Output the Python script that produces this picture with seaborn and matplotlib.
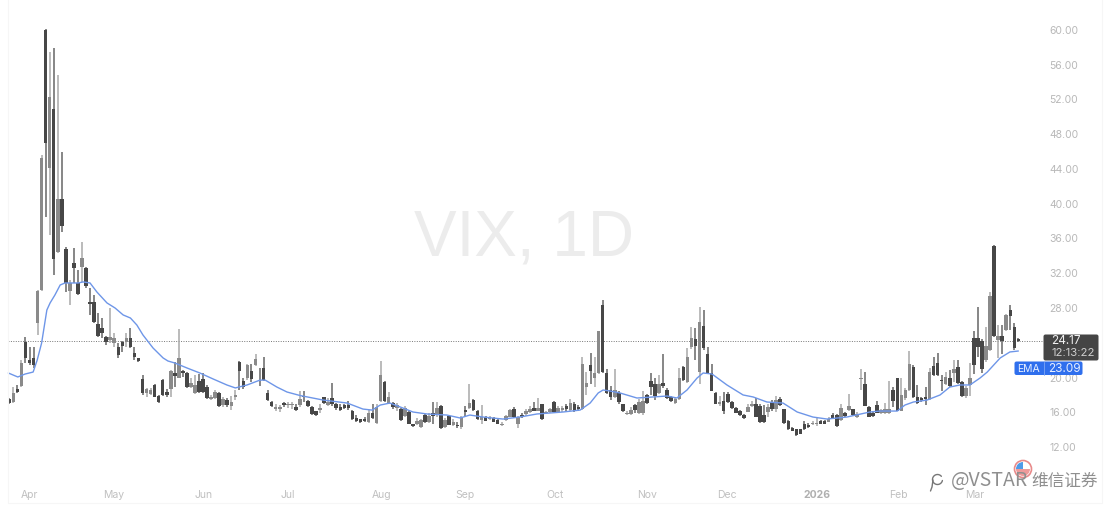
import matplotlib
matplotlib.use('Agg')
import matplotlib.pyplot as plt
from matplotlib.patches import Circle, FancyBboxPatch, Rectangle, Wedge
import numpy as np
import seaborn as sns

# daily VIX candles
opens = [
    17.5,17.2,18.7,19.0,24.1,22.0,22.2,26.3,30.1,60.0,
    44.1,50.9,34.4,40.6,34.8,30.0,33.2,30.9,32.7,32.6,
    28.7,28.7,26.2,25.7,24.7,24.3,24.0,23.5,24.1,24.1,
    24.5,22.8,22.2,19.8,18.2,18.1,19.1,17.9,19.7,18.3,
    18.7,20.5,20.0,20.8,20.5,18.9,18.2,19.6,19.8,18.9,
    17.5,17.6,18.2,16.8,17.4,16.7,17.8,21.8,19.6,19.9,
    20.8,21.4,20.8,21.1,18.2,17.2,16.4,16.4,17.1,16.8,
    16.8,16.65,16.8,17.85,17.3,16.65,16.15,16.3,17.7,16.85,
    17.6,17.0,16.65,16.85,16.85,16.2,15.3,15.2,15.2,14.85,
    15.9,14.8,17.3,19.5,17.1,17.1,16.45,16.4,15.6,16.05,
    14.65,14.65,14.35,15.7,14.9,15.9,15.7,16.75,14.25,15.55,
    14.55,14.55,14.25,16.25,16.45,17.4,16.2,15.1,15.5,15.2,
    15.3,15.1,14.55,15.1,15.5,16.4,14.7,15.7,15.8,16.05,
    16.45,16.2,16.9,15.9,16.05,17.2,16.05,16.25,16.75,16.3,
    17.0,16.55,16.35,18.95,21.45,20.0,20.5,28.35,20.5,18.55,
    17.8,18.25,16.95,15.8,15.8,16.85,15.9,15.9,17.95,19.65,
    19.3,18.2,19.4,18.55,17.8,17.1,17.5,21.25,19.5,23.5,
    24.45,20.65,25.9,22.65,20.5,18.25,16.95,17.3,18.1,17.2,
    16.45,16.2,15.7,16.05,16.7,16.95,16.7,15.7,16.05,17.2,
    16.35,17.5,16.35,15.0,14.15,14.05,14.05,14.65,14.5,14.65,
    14.65,15.0,15.0,14.9,15.7,15.7,15.1,15.9,16.3,16.35,
    15.4,19.8,19.3,16.65,15.95,16.85,15.95,15.95,15.95,18.55,
    19.9,16.2,17.6,18.55,21.25,17.8,17.6,17.8,17.5,21.3,
    21.7,19.75,19.25,20.0,20.5,21.2,19.5,17.9,19.15,24.6,
    24.5,24.25,22.0,23.15,35.1,24.3,24.8,25.5,27.8,25.8,24.45,
]
closes = [
    17.1,18.2,18.3,21.7,22.2,21.7,21.4,30.0,45.3,47.0,
    52.3,33.6,40.6,37.4,30.9,30.9,32.6,29.6,33.8,30.5,
    28.5,26.4,24.8,25.1,24.1,24.7,24.5,22.6,23.6,24.5,
    23.5,22.4,21.9,18.2,18.7,18.6,17.8,17.2,18.0,18.0,
    20.8,20.2,22.2,20.5,18.9,19.4,19.1,18.3,18.3,17.6,
    17.8,18.3,16.7,17.5,16.8,17.2,18.0,20.8,18.9,21.4,
    19.8,22.1,20.7,19.7,17.4,16.7,16.6,16.6,16.8,17.0,
    16.95,16.25,17.5,17.7,16.7,15.8,15.7,16.45,17.1,17.2,
    17.0,16.45,16.25,16.45,16.45,15.2,15.0,14.85,15.05,15.95,
    15.3,16.65,20.3,17.3,17.8,16.65,16.85,15.1,16.45,14.7,
    14.4,15.0,15.1,14.85,15.55,15.55,16.45,14.15,15.1,14.55,
    14.9,14.4,15.4,16.05,17.1,16.25,15.2,15.4,15.05,15.4,
    14.9,14.7,14.7,15.55,16.25,15.4,15.5,15.4,16.2,16.4,
    16.15,16.45,15.2,16.05,16.35,16.05,16.45,16.45,16.35,17.1,
    16.2,16.35,21.55,19.4,20.75,20.55,25.3,20.65,18.2,17.7,
    18.55,17.15,16.2,15.95,16.25,16.25,17.2,17.35,17.1,18.85,
    17.85,19.3,19.0,17.6,17.35,17.5,19.9,19.7,22.4,24.6,
    23.6,26.35,23.35,20.5,18.45,17.0,17.2,16.2,17.2,16.45,
    15.95,15.7,15.3,16.65,16.95,15.5,14.85,14.85,16.65,16.35,
    17.4,16.85,14.8,14.05,13.9,13.4,13.5,14.05,14.35,14.8,
    14.8,14.7,14.7,15.2,15.3,14.4,16.45,15.55,16.7,15.7,
    15.8,20.0,16.75,15.5,15.55,15.95,16.25,16.35,16.35,17.35,
    16.2,18.0,18.55,21.6,17.7,17.05,17.4,17.5,20.65,20.3,
    20.3,19.6,20.1,19.0,20.95,19.4,17.9,18.75,19.9,21.45,
    23.55,20.95,23.6,29.4,24.8,24.8,24.2,27.2,27.1,23.35,24.17,
]
highs = [
    17.6,18.9,19.1,22.0,24.7,23.5,23.5,30.1,45.6,60.1,
    57.5,57.9,54.8,46.0,35.0,31.2,34.9,32.4,35.6,32.7,
    30.3,29.5,27.4,26.9,24.8,28.0,25.1,24.0,24.2,25.1,
    25.7,23.5,22.3,20.3,18.8,18.8,19.3,18.0,19.8,18.7,
    20.9,21.8,25.6,20.9,20.6,20.0,20.3,20.4,20.5,19.1,
    18.0,18.6,18.3,17.8,17.6,17.9,18.6,21.9,20.0,21.6,
    21.6,22.7,21.1,22.4,18.6,17.3,16.9,16.8,17.2,17.2,
    17.2,16.9,18.4,18.4,17.4,16.7,16.2,17.0,17.8,17.6,
    19.4,17.1,16.9,17.0,17.3,16.3,15.7,15.25,15.5,16.3,
    17.0,16.9,21.9,19.6,18.3,17.2,17.1,16.5,16.7,16.1,
    14.7,15.3,15.2,15.8,15.9,17.2,17.2,16.85,15.3,15.6,
    15.2,14.9,15.6,16.7,19.3,17.5,16.3,16.85,15.6,15.6,
    15.4,15.2,14.9,15.7,16.4,16.6,15.6,15.9,16.4,16.7,
    17.2,17.6,17.0,16.2,16.5,17.3,16.7,16.7,17.0,17.5,
    17.2,16.8,22.4,20.65,22.85,22.4,25.4,28.9,20.95,19.0,
    20.95,18.4,17.0,16.2,16.6,17.0,17.5,18.4,18.1,20.5,
    19.9,20.3,22.65,18.8,17.9,17.7,21.15,21.3,23.35,25.8,
    25.65,28.15,27.75,23.55,21.6,18.3,17.9,18.3,18.3,17.3,
    16.6,16.3,15.8,17.0,17.3,17.6,17.0,16.85,16.9,17.4,
    17.85,17.7,16.4,15.1,14.3,14.1,14.1,15.0,14.8,15.0,
    15.3,15.1,15.1,15.4,15.9,15.8,16.9,16.0,18.1,16.4,
    16.0,20.95,20.65,16.7,16.1,17.3,16.4,17.1,19.65,18.95,
    20.0,19.9,18.8,23.1,21.4,19.15,17.8,18.95,21.05,22.4,
    22.85,20.3,20.6,20.9,22.0,22.0,19.6,19.0,21.7,25.3,
    28.1,24.4,25.8,29.8,35.25,26.05,26.1,27.3,28.35,26.3,24.5,
]
lows = [
    17.0,17.1,18.2,18.9,21.7,21.4,21.1,24.9,30.0,38.5,
    36.4,31.8,34.3,36.7,29.8,28.4,30.9,29.5,31.0,30.3,
    27.2,26.3,24.7,24.5,23.7,24.0,23.5,22.2,22.9,23.5,
    23.4,22.0,21.8,18.0,17.7,18.0,17.7,17.1,17.9,17.8,
    17.8,18.9,19.9,20.1,18.8,18.8,18.1,18.2,18.2,17.5,
    17.4,17.5,16.6,16.6,16.6,16.3,17.4,18.6,18.7,19.7,
    19.5,21.3,19.0,19.6,17.3,16.6,16.1,16.0,16.6,16.5,
    16.4,16.1,16.65,17.2,16.6,15.7,15.6,15.9,17.0,16.7,
    16.7,16.3,16.1,16.4,16.3,15.1,14.9,14.8,14.9,14.75,
    15.2,14.7,17.2,17.2,17.0,16.4,16.2,15.0,15.5,14.65,
    14.3,14.5,14.2,14.8,14.8,14.7,15.5,14.1,14.15,14.5,
    14.4,14.2,14.1,15.5,16.4,16.2,15.1,14.7,15.0,15.1,
    14.85,14.65,14.4,15.05,15.4,15.3,14.2,15.3,15.6,15.9,
    16.1,16.1,15.1,15.8,15.9,16.0,15.9,16.0,16.2,16.2,
    16.0,16.1,16.3,18.0,19.3,18.95,20.4,20.5,18.1,17.4,
    17.6,17.0,16.0,15.7,15.7,15.9,15.8,15.7,17.0,18.0,
    17.4,18.1,18.8,17.5,17.2,17.0,17.4,19.6,19.4,23.3,
    22.0,19.3,23.2,20.4,18.4,16.9,16.7,15.8,17.1,16.4,
    15.9,15.6,15.25,16.0,16.6,15.4,14.8,14.8,15.4,16.2,
    16.0,16.7,14.7,14.0,13.8,13.3,13.45,14.0,14.2,14.5,
    14.4,14.6,14.6,14.85,15.2,14.3,15.0,15.4,16.2,15.6,
    15.3,18.55,16.7,15.4,15.4,15.9,15.8,15.8,15.8,16.65,
    16.1,16.1,17.4,18.4,17.6,16.9,17.2,16.85,17.4,20.2,
    20.2,18.4,19.1,18.9,19.5,19.3,17.8,17.6,17.9,20.4,
    22.4,20.5,21.8,23.0,24.7,22.2,22.7,25.3,25.5,23.15,24.1,
]

# EMA line, read at its bends
ema_idx = [-0.25,2.1,3.9,5.9,6.9,8,9.3,10.1,11.3,12.6,13.8,15,17,18.3,20,21.7,24.2,26.2,28.2,30,
           31.6,33.1,35.6,38.1,39.3,41,44,47.2,50.5,53.9,56,58.9,62.1,63.4,66.3,68.8,72,77.7,83.7,87.6,
           89.9,91.9,94.3,97.5,100,103.5,108.4,111.7,114.1,117.4,122.3,126.5,130.7,137.2,141.4,143.9,145.9,147.1,148.8,151.3,
           155.5,159.5,163,165.4,167.9,170.4,171.9,174.1,177.8,181.8,184.3,187.7,191.7,195.2,199.1,202.6,207.5,213.2,215.7,220,
           221.9,224,227.4,230.6,233,235.5,238,240.5,242.3,245.5,247.9,250]
ema_val = [20.52,20.06,20.4,20.63,22.0,23.97,27.77,28.58,29.5,30.65,30.88,30.88,30.88,31.0,30.88,29.84,28.58,28.0,27.2,26.85,
           26.04,24.9,23.4,22.25,21.9,21.67,21.1,20.52,19.83,19.14,18.8,19.14,19.7,19.7,18.9,18.33,17.93,17.41,17.06,16.37,
           16.25,16.83,17.06,16.49,16.03,15.8,15.68,15.34,15.68,15.45,15.22,15.45,15.8,16.03,16.25,17.06,18.22,18.56,18.45,18.22,
           17.64,17.76,17.87,17.64,18.56,19.94,20.52,20.4,19.14,17.99,17.76,17.18,17.06,16.03,15.45,15.22,15.45,16.03,16.14,16.14,
           16.83,17.18,17.41,17.99,18.9,19.14,19.14,19.94,20.63,22.25,22.94,23.05]

price_ticks = [12, 16, 20, 24, 28, 32, 36, 40, 44, 48, 52, 56, 60]
price_labels = ['12.00', '16.00', '20.00', '', '28.00', '32.00', '36.00', '40.00', '44.00', '48.00', '52.00', '56.00', '60.00']
month_pos = [4.9, 25.9, 48.2, 69, 92.1, 112.9, 135.2, 158, 177.8, 200.1, 220.2, 239.3]
month_labels = ['Apr', 'May', 'Jun', 'Jul', 'Aug', 'Sep', 'Oct', 'Nov', 'Dec', '2026', 'Feb', 'Mar']
last_price = 24.17

DARK = '#474747'
GREY = '#8a8a8a'

sns.set_theme(style='white')
plt.rcParams['font.family'] = ['Inter', 'Noto Sans CJK SC', 'DejaVu Sans']

fig = plt.figure(figsize=(11.12, 5.16), dpi=100)
ax = fig.add_axes([0, 0, 1, 1])

idx = np.arange(len(opens))
o, c, h, l = map(np.array, (opens, closes, highs, lows))
up = c >= o

ax.hlines(last_price, -0.3, 256, color='#777777', lw=0.7, ls=(0, (1, 1.5)), zorder=1)
ax.vlines(idx[up], l[up], h[up], color='#a8a8a8', lw=1.1, zorder=2)
ax.vlines(idx[~up], l[~up], h[~up], color='#666666', lw=1.1, zorder=2)
ax.bar(idx[up], (c - o)[up], bottom=o[up], width=0.88, color=GREY, lw=0, zorder=3)
ax.bar(idx[~up], (o - c)[~up], bottom=c[~up], width=0.88, color=DARK, lw=0, zorder=3)
sns.lineplot(x=ema_idx, y=ema_val, ax=ax, color='#6e96e8', lw=1.0, sort=False, zorder=4)

ax.set_xlim(-2.31, 273.2)
ax.set_ylim(4.06, 63.45)
sns.despine(ax=ax, left=True, bottom=True)

ax.set_yticks(price_ticks, price_labels)
ax.tick_params(axis='y', left=False, right=False, labelleft=False, labelright=True,
               pad=-51, labelsize=7.5, labelcolor='#b8b8b8')
ax.set_xticks(month_pos, month_labels)
ax.tick_params(axis='x', bottom=False, pad=-24.5, labelsize=7.5, labelcolor='#c0c0c0')
bold = ax.get_xticklabels()[month_labels.index('2026')]
bold.set_fontweight('bold')
bold.set_color('#b0b0b0')

# overlay in pixels for the badges and the watermark
ov = fig.add_axes([0, 0, 1, 1], facecolor='none')
ov.set_xlim(0, 1112)
ov.set_ylim(516, 0)
ov.axis('off')

ov.text(524.5, 255, 'VIX, 1D', ha='center', va='baseline', fontsize=46, color='#ececec',
        family='Liberation Sans', zorder=0)

ov.add_patch(Rectangle((8, -5), 1094, 508, fill=False, ec='#f6f6f6', lw=0.8))
ov.add_patch(FancyBboxPatch((1044, 335), 54, 25, boxstyle='round,pad=0.5,rounding_size=2', fc='#454545', ec='none'))
ov.text(1051, 341.5, '24.17', color='#f0f0f0', fontsize=8.5, va='center')
ov.text(1051.5, 353.5, '12:13:22', color='#cfcfcf', fontsize=8.2, va='center')
ov.add_patch(FancyBboxPatch((1015, 362), 67, 12.5, boxstyle='round,pad=0.5,rounding_size=2', fc='#2f6fed', ec='none'))
ov.plot([1043.5, 1043.5], [362, 375], color='#7ea6f5', lw=0.6)
ov.text(1028.5, 368.5, 'EMA', color='#e6eeff', fontsize=7.5, ha='center', va='center')
ov.text(1064.5, 368.5, '23.09', color='#e6eeff', fontsize=8.5, ha='center', va='center')

# small flag badge
ov.add_patch(Circle((1023, 469), 8.5, fc='white', ec='#e88a8a', lw=1.2))
ov.add_patch(Wedge((1023, 469), 7, 180, 270, fc='#4f9be8', ec='none'))
ov.add_patch(Wedge((1023, 469), 7, 0, 180, fc='#ee9a9a', ec='none'))

# watermark
ov.text(951, 481, '@VSTAR', color='#8f8f8f', fontsize=14, va='center', family='Noto Sans CJK SC')
ov.text(1031.5, 481, '维信证券', color='#8f8f8f', fontsize=12, va='center', family='Noto Sans CJK SC')
t = np.linspace(0.2, 5.6, 40)
ov.plot(937.5 + 5 * np.cos(t), 479.5 + 5 * np.sin(t), color='#777777', lw=1.0)
ov.plot([933, 932, 930.5], [480, 487, 491], color='#777777', lw=1.0)

fig.savefig('out.png', dpi=100)
